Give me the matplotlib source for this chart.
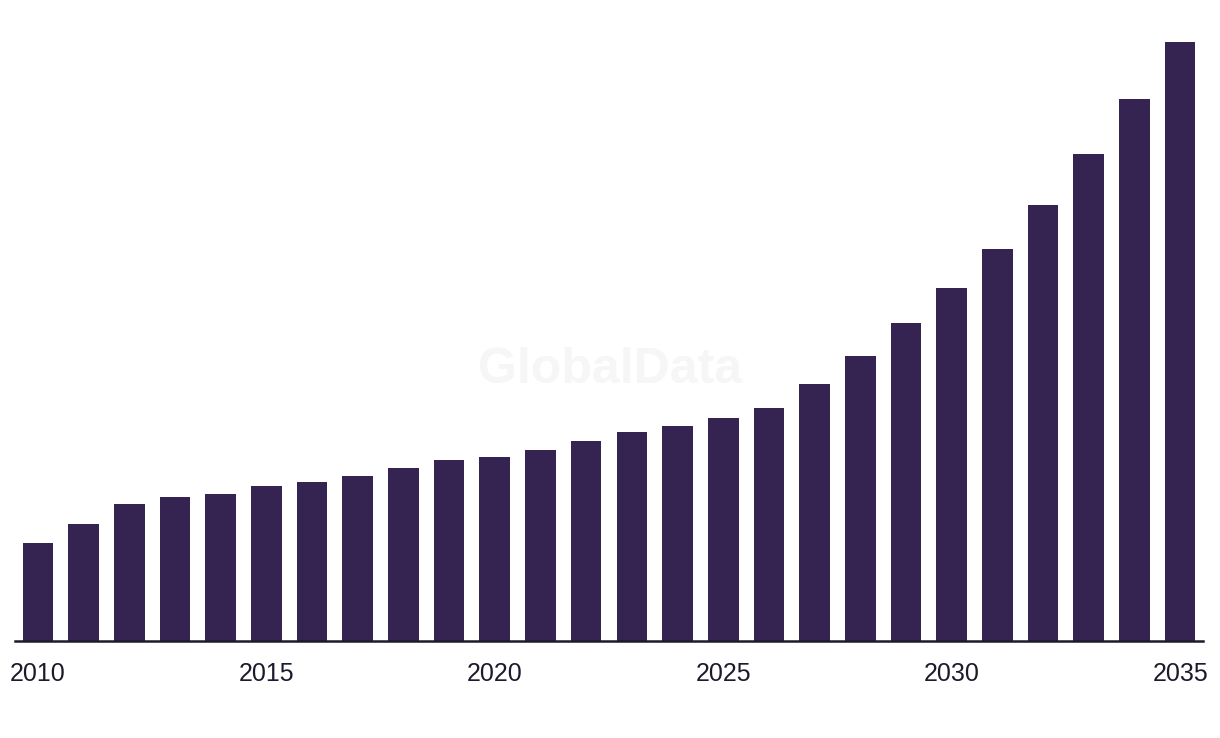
import numpy as np
import matplotlib
matplotlib.use("Agg")
import matplotlib.pyplot as plt

# valores (unidades arbitrarias, sem eixo y)
YEARS = list(range(2010, 2036))
VALUES = [98, 117, 137, 144, 147, 155, 159, 165, 173, 181, 184, 191, 200,
          209, 215, 223, 233, 257, 285, 318, 353, 392, 436, 487, 542, 599]
TICK_YEARS = [2010, 2015, 2020, 2025, 2030, 2035]

BAR_COLOR = "#352352"
TEXT_COLOR = "#1c1a2b"

plt.rcParams["font.family"] = ["Liberation Sans", "DejaVu Sans"]

fig = plt.figure(figsize=(12.2, 7.38), dpi=100)
ax = fig.add_axes([15 / 1220, 97 / 738, 1188 / 1220, 610 / 738])

x = np.arange(len(YEARS))
ax.bar(x, VALUES, width=0.67, color=BAR_COLOR, zorder=2)

ax.set_xlim(-0.5, len(YEARS) - 0.5)
ax.set_ylim(0, 610)

ax.set_xticks([YEARS.index(y) for y in TICK_YEARS])
ax.set_xticklabels([str(y) for y in TICK_YEARS], fontsize=18, color=TEXT_COLOR)
ax.tick_params(axis="x", length=0, pad=15)
ax.set_yticks([])

for s in ["top", "right", "left"]:
    ax.spines[s].set_visible(False)
ax.spines["bottom"].set_color(TEXT_COLOR)
ax.spines["bottom"].set_linewidth(1.8)

# marca d'agua
fig.text(0.5, 1 - 370 / 738, "GlobalData", ha="center", va="center",
         fontsize=36, fontweight="bold", color="#f6f6f6", zorder=0)

fig.savefig("out.png", dpi=100)
